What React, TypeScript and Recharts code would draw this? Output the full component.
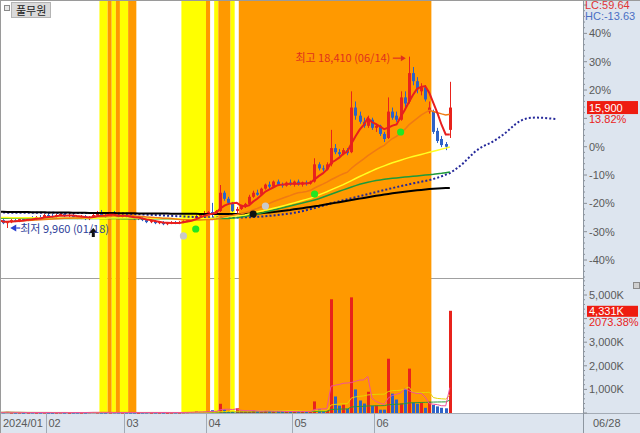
import React from 'react';
import { ComposedChart, Bar, Line, XAxis, YAxis, ReferenceArea } from 'recharts';

// ---------------- data ----------------
const stockName = '풀무원';
const monthTickIdx = [0, 12, 31, 51, 72, 92];
const monthTickLabels = ['2024/01', '02', '03', '04', '05', '06'];
const lastDateLabel = '06/28';

const opens = [
  10450, 10350, 10200, 10250, 10350, 10300, 10400, 10350, 10450, 10400, 10500, 10450,
  10600, 10550, 10500, 10600, 10650, 10550, 10600, 10500, 10450, 10550, 10400, 10500, 10600, 10700, 10600, 10500, 10650, 10600, 10500,
  10600, 10500, 10450, 10400, 10450, 10350, 10250, 10300, 10200, 10250, 10150, 10200, 10250, 10200, 10250, 10300, 10400, 10450, 10550, 10650,
  10700, 10750, 10650, 10800, 11700, 11400, 11200, 10800, 10900, 11050, 11150, 11500, 11700, 11600, 11900, 12100, 12000, 12250, 12100, 12050, 12200,
  12100, 12250, 12100, 12200, 12150, 12250, 13100, 12900, 12850, 13100, 13900, 13700, 13600, 13800, 13700, 15900, 15500, 15200, 15000, 15300,
  14900, 15000, 14600, 14400, 15700, 15500, 15300, 16400, 16200, 17600, 17200, 16700, 16900, 15700, 15700, 14750, 14350, 14100, 14800,
];
const highs = [
  10500, 10400, 10300, 10400, 10450, 10450, 10500, 10500, 10550, 10550, 10600, 10650,
  10700, 10650, 10650, 10750, 10700, 10650, 10650, 10550, 10600, 10600, 10550, 10650, 10800, 10850, 10700, 10750, 10800, 10700, 10650,
  10700, 10600, 10550, 10500, 10500, 10400, 10350, 10350, 10300, 10300, 10250, 10300, 10300, 10300, 10350, 10450, 10500, 10600, 10700, 10800,
  10800, 11200, 10850, 12080, 11800, 11500, 11250, 11000, 11100, 11200, 11600, 11800, 11850, 11950, 12150, 12250, 12300, 12350, 12200, 12250, 12350,
  12300, 12350, 12250, 12300, 12300, 13400, 13200, 13050, 13200, 14800, 14100, 13850, 13900, 13900, 16700, 16200, 15700, 15400, 15500, 15400,
  15100, 15050, 14700, 16400, 15900, 15700, 16700, 16700, 18410, 17900, 17400, 17100, 17000, 16200, 15800, 14900, 14500, 14200, 17170,
];
const lows = [
  10300, 10150, 9960, 10200, 10250, 10250, 10300, 10300, 10350, 10350, 10400, 10400,
  10500, 10450, 10450, 10550, 10500, 10500, 10450, 10400, 10400, 10350, 10350, 10450, 10550, 10550, 10450, 10450, 10550, 10400, 10450,
  10450, 10400, 10350, 10350, 10300, 10200, 10200, 10150, 10150, 10100, 10100, 10150, 10150, 10150, 10200, 10250, 10350, 10400, 10500, 10600,
  10600, 10350, 10600, 10750, 11300, 11100, 10750, 10600, 10850, 10950, 11100, 11450, 11550, 11550, 11850, 11900, 11950, 12050, 11950, 12000, 12050,
  12000, 12050, 12000, 12050, 12100, 12200, 12800, 12750, 12800, 13000, 13600, 13500, 13550, 13550, 13650, 15300, 15100, 14900, 14900, 14800,
  14700, 14500, 14200, 14350, 15300, 15200, 15250, 15900, 16100, 17000, 16600, 16500, 16200, 15600, 14600, 14150, 13950, 13800, 14400,
];
const closes = [
  10350, 10200, 10250, 10350, 10300, 10400, 10350, 10450, 10400, 10500, 10450, 10600,
  10550, 10500, 10600, 10650, 10550, 10600, 10500, 10450, 10550, 10400, 10500, 10600, 10700, 10600, 10500, 10650, 10600, 10500, 10600,
  10500, 10450, 10400, 10450, 10350, 10250, 10300, 10200, 10250, 10150, 10200, 10250, 10200, 10250, 10300, 10400, 10450, 10550, 10650, 10700,
  10750, 10650, 10800, 11700, 11400, 11200, 10800, 10900, 11050, 11150, 11500, 11700, 11600, 11900, 12100, 12000, 12250, 12100, 12050, 12200, 12100,
  12250, 12100, 12200, 12150, 12250, 13100, 12900, 12850, 13100, 13900, 13700, 13600, 13800, 13650, 15900, 15500, 15200, 15000, 15300, 14900,
  15000, 14600, 14350, 15700, 15400, 15300, 16400, 16100, 17600, 17200, 16800, 16900, 16300, 15900, 14700, 14250, 14050, 13970, 15900,
];
// volume in thousands of shares
const volumes = [
  25, 30, 45, 20, 18, 22, 15, 20, 25, 18, 20, 22,
  18, 15, 20, 25, 18, 15, 20, 22, 18, 20, 35, 40, 25, 20, 18, 22, 30, 25, 20,
  22, 18, 20, 15, 20, 25, 18, 22, 20, 18, 15, 20, 25, 22, 30, 35, 40, 60, 45, 50,
  70, 120, 60, 390, 150, 80, 60, 200, 90, 70, 60, 110, 80, 60, 100, 70, 60, 80, 50, 60, 70,
  60, 50, 70, 60, 80, 490, 150, 90, 120,
  4820, 700, 310, 350, 180, 4900, 1000, 530, 400, 900, 300, 320, 140, 140, 2300, 820, 570, 410, 1030, 1880,
  440, 390, 440, 220, 480, 340, 280, 220, 199, 4331,
];
// long moving averages
const ma60Line = [
  10480, 10478, 10475, 10472, 10470, 10468, 10466, 10464, 10462, 10460,
  10458, 10456, 10455, 10454, 10453, 10452, 10451, 10450, 10450, 10449,
  10448, 10447, 10446, 10445, 10445, 10446, 10447, 10448, 10449, 10450,
  10450, 10450, 10449, 10448, 10446, 10444, 10442, 10440, 10437, 10434,
  10431, 10428, 10425, 10422, 10420, 10418, 10417, 10417, 10418, 10420,
  10423,
  10430, 10440, 10455, 10475, 10495, 10515, 10535, 10555, 10578, 10600,
  10650, 10700, 10750, 10800, 10845, 10890, 10935, 10980, 11035, 11090,
  11145, 11200, 11258, 11315, 11372, 11430, 11510, 11590, 11670, 11750,
  11838, 11925, 12013, 12100, 12200, 12300, 12400, 12500, 12593, 12685,
  12778, 12870, 12948, 13025, 13103, 13180, 13243, 13305, 13368, 13430,
  13483, 13535, 13588, 13640, 13693, 13745, 13798, 13850, 13900, 13950,
];
const ma120Line = [
  10440, 10440, 10438, 10438, 10436, 10436, 10435, 10435, 10434, 10434,
  10433, 10433, 10432, 10432, 10431, 10431, 10430, 10430, 10429, 10429,
  10428, 10428, 10427, 10427, 10426, 10426, 10425, 10425, 10424, 10424,
  10423, 10423, 10422, 10422, 10421, 10421, 10420, 10420, 10420, 10419,
  10419, 10419, 10418, 10418, 10418, 10418, 10418, 10419, 10420, 10421,
  10422, 10423, 10424, 10425, 10427, 10428,
  10430, 10450, 10470, 10500, 10530, 10570, 10610, 10655, 10700, 10750,
  10800, 10850, 10900, 10950, 11000, 11050, 11100, 11145, 11190, 11240,
  11290, 11345, 11400, 11475, 11550, 11625, 11700, 11770, 11840, 11910,
  11980, 12050, 12120, 12170, 12220, 12260, 12300, 12330, 12360, 12385,
  12410, 12430, 12450, 12470, 12490, 12510, 12530, 12550, 12570, 12590,
  12610, 12635, 12660, 12690, 12720,
];
const ma240Line = [
  10760, 10760, 10755, 10755, 10750, 10750, 10745, 10745, 10740, 10740,
  10735, 10735, 10730, 10730, 10725, 10725, 10720, 10720, 10715, 10715,
  10710, 10710, 10705, 10705, 10700, 10700, 10700, 10695, 10695, 10690,
  10690,
  10690, 10685, 10685, 10680, 10680, 10680, 10675, 10675, 10670, 10670,
  10670, 10665, 10665, 10665, 10660, 10660, 10660, 10660, 10655, 10655,
  10655, 10655, 10655, 10650,
  10650, 10650, 10650, 10652, 10655, 10658, 10662, 10667,
  10675, 10690, 10710, 10730, 10750, 10775, 10800, 10825, 10850, 10880,
  10910, 10940, 10970, 11000, 11030, 11060, 11095, 11130, 11165, 11200,
  11235, 11270, 11305, 11340, 11375, 11410, 11445, 11480, 11515, 11550,
  11580, 11610, 11640, 11670, 11700, 11725, 11750, 11775, 11800, 11820,
  11840, 11860, 11880, 11895, 11910, 11920, 11930, 11935,
];
// leading span, extends 26 sessions past the last candle
const leadSpan = [
  10720, 10720, 10718, 10718, 10716, 10716, 10714, 10714, 10712, 10712,
  10710, 10710, 10708, 10708, 10706, 10706, 10704, 10704, 10702, 10702,
  10700, 10700, 10698, 10696, 10694, 10692, 10690, 10686, 10682, 10678,
  10674, 10670, 10660, 10650, 10640, 10630,
  10620, 10610, 10600, 10590, 10580, 10570, 10560, 10550, 10540, 10530,
  10520, 10510, 10500, 10495, 10490, 10485, 10480, 10478, 10476, 10475,
  10475, 10476, 10478, 10480, 10485, 10490, 10500,
  10510, 10525, 10540, 10560, 10580, 10600, 10625, 10650, 10680, 10710,
  10745, 10790, 10840, 10890, 10945, 11000, 11060, 11120, 11180, 11230,
  11280, 11330, 11380, 11430, 11480, 11530, 11580, 11630, 11680, 11730,
  11780, 11830, 11880, 11930, 11980, 12025, 12070, 12115, 12160, 12200,
  12240, 12280, 12320, 12380, 12440, 12510, 12590, 12670,
  12800, 12950, 13100, 13300, 13500, 13700, 13850, 13980, 14080, 14160,
  14280, 14420, 14560, 14720, 14900, 15080, 15220, 15320, 15380, 15400,
  15410, 15400, 15390, 15370, 15350, 15330,
];

// background condition bands (session index ranges)
const bandStart = [25, 27, 28, 29, 30, 32, 45, 51, 53, 54, 57, 59];
const bandEnd = [26, 27, 28, 29, 31, 33, 50, 51, 53, 56, 57, 105];
const bandKind = ['Y', 'O', 'Y', 'O', 'Y', 'O', 'Y', 'O', 'Y', 'O', 'Y', 'O'];

// signal markers
const markerIdx = [23, 45, 48, 62, 65, 77, 98];
const markerPrice = [9714, 9568, 9911, 10650, 11045, 11636, 14694];
const markerKind = ['arrow', 'gray', 'green', 'black', 'gray', 'green', 'green'];

const highIdx = 100;
const lowIdx = 2;
const highLabel = '최고 18,410 (06/14)';
const lowLabel = '최저 9,960 (01/18)';
const lcLabel = 'LC:59.64';
const hcLabel = 'HC:-13.63';
const lastPriceLabel = '15,900';
const lastPctLabel = '13.82%';
const lastVolLabel = '4,331K';
const lastVolPctLabel = '2073.38%';

// ---------------- layout ----------------
const W = 640;
const H = 433;
const PLOT_RIGHT = 583;
const CHART_LEFT = -3;
const CHART_W = 643;
const AXIS_W = 57;
const AX = CHART_W - AXIS_W;
const SLOTS = 143;
const BW = AX / SLOTS;
const PRICE_H = 279;
const VOL_TOP = 279;
const VOL_PLOT_H = 134;
const XAXIS_H = 20;
const PCT_TOP = 51.78;
const PCT_BOTTOM = -46.7;
const VOL_MAX = 5678;

const UP = '#e8231c';
const DOWN = '#2d62c8';
const BAND_COLORS: Record<string, string> = { Y: '#ffff00', O: '#ff9900' };
const AXIS_TEXT = '#5a5a5a';
const NUM_FONT = '"Liberation Sans", Arial, sans-serif';
const KR_FONT = '"Noto Sans CJK KR", "Noto Sans", sans-serif';

const prevClose = closes[closes.length - 2];
const P_HI = prevClose * (1 + PCT_TOP / 100);
const P_LO = prevClose * (1 + PCT_BOTTOM / 100);

function sma(arr: number[], n: number, i: number) {
  const s = Math.max(0, i - n + 1);
  let sum = 0;
  for (let k = s; k <= i; k++) sum += arr[k];
  return sum / (i - s + 1);
}

const rows = Array.from({ length: SLOTS }, (_, i) => {
  const has = i < closes.length;
  const m = markerIdx.indexOf(i);
  return {
    i,
    o: has ? opens[i] : null,
    h: has ? highs[i] : null,
    l: has ? lows[i] : null,
    c: has ? closes[i] : null,
    range: has ? [lows[i], highs[i]] : null,
    ma5: has ? sma(closes, 5, i) : null,
    ma20: has ? sma(closes, 20, i) : null,
    ma60: ma60Line[i] ?? null,
    ma120: ma120Line[i] ?? null,
    ma240: ma240Line[i] ?? null,
    span: leadSpan[i] ?? null,
    vol: has ? volumes[i] : null,
    vma5: has ? sma(volumes, 5, i) : null,
    vma20: has ? sma(volumes, 20, i) : null,
    vma60: has ? sma(volumes, 60, i) : null,
    mk: m >= 0 ? markerPrice[m] : null,
    mkKind: m >= 0 ? markerKind[m] : null,
    hiMark: i === highIdx ? highs[i] : null,
    loMark: i === lowIdx ? lows[i] : null,
    lastMark: i === closes.length - 1 ? closes[i] : null,
    lastVol: i === closes.length - 1 ? volumes[i] : null,
  };
});

const priceTicks: number[] = [];
for (let p = -46; p <= 50; p += 2) priceTicks.push(prevClose * (1 + p / 100));
const volTicks: number[] = [];
for (let v = 0; v <= 5600; v += 200) volTicks.push(v);

// ---------------- shapes ----------------
function CandleShape(props: any) {
  const { x, y, width, height, payload } = props;
  if (!payload || payload.o == null || x == null) return <g />;
  const { o, h, l, c } = payload;
  const color = c >= o ? UP : DOWN;
  const k = h > l ? height / (h - l) : 0;
  const py = (v: number) => y + (h - v) * k;
  const cx = Math.round(x + width / 2) + 0.5;
  const top = py(Math.max(o, c));
  const bot = py(Math.min(o, c));
  return (
    <g>
      <line x1={cx} x2={cx} y1={y} y2={y + height} stroke={color} strokeWidth={1} />
      <rect x={cx - 1.5} y={top} width={3} height={Math.max(1, bot - top)} fill={color} />
    </g>
  );
}

function VolShape(props: any) {
  const { x, y, width, height, payload } = props;
  if (!payload || payload.vol == null || x == null) return <g />;
  const color = payload.c >= payload.o ? UP : DOWN;
  const cx = Math.round(x + width / 2) + 0.5;
  return <rect x={cx - 1.5} y={y} width={3} height={Math.max(1, height)} fill={color} />;
}

function MarkerDot(props: any) {
  const { cx, cy, payload, index } = props;
  const key = `mk-${index}`;
  if (cy == null || payload == null || payload.mk == null) return <g key={key} />;
  const kind = payload.mkKind;
  if (kind === 'arrow') {
    return (
      <g key={key}>
        <polygon points={`${cx},${cy - 5} ${cx - 4.5},${cy} ${cx + 4.5},${cy}`} fill="#111" />
        <rect x={cx - 1.5} y={cy} width={3} height={4} fill="#111" />
      </g>
    );
  }
  const fill = kind === 'green' ? '#22e622' : kind === 'gray' ? '#c9c9c9' : '#111';
  return <circle key={key} cx={cx} cy={cy} r={3.6} fill={fill} />;
}

function HighDot(props: any) {
  const { cx, cy, value, index } = props;
  const key = `hi-${index}`;
  if (cy == null || value == null) return <g key={key} />;
  const c = '#e0301e';
  const ay = cy + 1.5;
  return (
    <g key={key}>
      <text x={cx - 18.5} y={cy + 5.5} textAnchor="end" fontSize={11} fill={c} fontFamily={KR_FONT}>
        {highLabel}
      </text>
      <line x1={cx - 16} x2={cx - 8} y1={ay} y2={ay} stroke={c} strokeWidth={1.2} />
      <polygon points={`${cx - 3},${ay} ${cx - 8},${ay - 3} ${cx - 8},${ay + 3}`} fill={c} />
    </g>
  );
}

function LowDot(props: any) {
  const { cx, cy, value, index } = props;
  const key = `lo-${index}`;
  if (cy == null || value == null) return <g key={key} />;
  const c = '#2f3f9a';
  return (
    <g key={key}>
      <polygon points={`${cx + 3},${cy} ${cx + 9},${cy - 3.5} ${cx + 9},${cy + 3.5}`} fill="#2a3fd0" />
      <line x1={cx + 9} x2={cx + 13} y1={cy} y2={cy} stroke="#2a3fd0" strokeWidth={1.2} />
      <text x={cx + 13} y={cy + 4.5} fontSize={11} fill={c} fontFamily={KR_FONT}>
        {lowLabel}
      </text>
    </g>
  );
}

function LastPriceDot(props: any) {
  const { cy, value, index } = props;
  const key = `lp-${index}`;
  if (cy == null || value == null) return <g key={key} />;
  return (
    <g key={key}>
      <rect x={AX + 4} y={cy - 6.5} width={51} height={13} fill="#ee1c10" />
      <text x={AX + 6} y={cy + 4} fontSize={11} fill="#ffffff" fontFamily={NUM_FONT}>
        {lastPriceLabel}
      </text>
      <text x={AX + 6} y={cy + 15} fontSize={11} fill="#e8231c" fontFamily={NUM_FONT}>
        {lastPctLabel}
      </text>
    </g>
  );
}

function LastVolDot(props: any) {
  const { cy, value, index } = props;
  const key = `lv-${index}`;
  if (cy == null || value == null) return <g key={key} />;
  return (
    <g key={key}>
      <rect x={AX + 4} y={cy - 5} width={51} height={11} fill="#ee1c10" />
      <text x={AX + 6} y={cy + 4.5} fontSize={11} fill="#ffffff" fontFamily={NUM_FONT}>
        {lastVolLabel}
      </text>
      <text x={AX + 6} y={cy + 15} fontSize={11} fill="#e8231c" fontFamily={NUM_FONT}>
        {lastVolPctLabel}
      </text>
    </g>
  );
}

function PriceTick(props: any) {
  const { y, payload } = props;
  const pct = Math.round((payload.value / prevClose - 1) * 100);
  const major = pct % 10 === 0;
  const labelled = major && pct !== 10 && Math.abs(pct) <= 40;
  return (
    <g>
      <line x1={AX} x2={AX + (major ? 4 : 2)} y1={y} y2={y} stroke="#8a8f96" />
      {labelled ? (
        <text x={AX + 6} y={y + 4} fontSize={11} fill={AXIS_TEXT} fontFamily={NUM_FONT}>
          {`${pct}%`}
        </text>
      ) : null}
    </g>
  );
}

function VolTick(props: any) {
  const { y, payload } = props;
  const v = payload.value;
  const major = v % 1000 === 0;
  return (
    <g>
      <line x1={AX} x2={AX + (major ? 4 : 2)} y1={y} y2={y} stroke="#8a8f96" />
      {major && v > 0 && v !== 4000 ? (
        <text x={AX + 6} y={y + 4} fontSize={11} fill={AXIS_TEXT} fontFamily={NUM_FONT}>
          {`${v.toLocaleString('en-US')}K`}
        </text>
      ) : null}
    </g>
  );
}

function MonthTick(props: any) {
  const { x, payload } = props;
  const k = monthTickIdx.indexOf(payload.value);
  if (k < 0) return <g />;
  const left = Math.round(x - BW / 2) + 0.5;
  return (
    <g>
      {k > 0 ? <line x1={left} x2={left} y1={VOL_PLOT_H} y2={VOL_PLOT_H + XAXIS_H} stroke="#a3abb5" /> : null}
      <text x={k === 0 ? 6 : left + 2} y={VOL_PLOT_H + 14} fontSize={11} fill={AXIS_TEXT} fontFamily={NUM_FONT}>
        {monthTickLabels[k]}
      </text>
    </g>
  );
}

function bands() {
  return bandStart.map((s, k) => (
    <ReferenceArea
      key={`band-${k}`}
      x1={s}
      x2={bandEnd[k]}
      fill={BAND_COLORS[bandKind[k]]}
      fillOpacity={1}
      stroke="none"
    />
  ));
}

export default function App() {
  return (
    <div style={{ position: 'relative', width: W, height: H, overflow: 'hidden', background: '#ffffff', fontFamily: NUM_FONT }}>
      <style>{'body{margin:0}'}</style>
      {/* right axis panel & x strip background */}
      <div style={{ position: 'absolute', left: PLOT_RIGHT, top: 0, width: W - PLOT_RIGHT, height: H, background: '#dde5ef' }} />
      <div style={{ position: 'absolute', left: 0, top: 413, width: W, height: H - 413, background: '#dde5ef', borderTop: '1px solid #a3abb5', boxSizing: 'border-box' }} />
      {/* panel separator */}
      <div style={{ position: 'absolute', left: 0, top: 278, width: PLOT_RIGHT, height: 1, background: '#a0a0a0' }} />

      {/* price panel */}
      <div style={{ position: 'absolute', left: CHART_LEFT, top: 0 }}>
        <ComposedChart width={CHART_W} height={PRICE_H} data={rows} margin={{ top: 0, right: 0, bottom: 0, left: 0 }}>
          {bands()}
          <XAxis dataKey="i" type="category" hide />
          <YAxis
            orientation="right"
            width={AXIS_W}
            type="number"
            domain={[P_LO, P_HI]}
            ticks={priceTicks}
            interval={0}
            axisLine={false}
            tickLine={false}
            tick={<PriceTick />}
          />
          <Line dataKey="span" stroke="#24289a" strokeWidth={2} strokeDasharray="2 2.1" dot={false} activeDot={false} isAnimationActive={false} />
          <Bar dataKey="range" shape={(p: any) => <CandleShape {...p} />} isAnimationActive={false} />
          <Line dataKey="ma240" stroke="#000000" strokeWidth={2} dot={false} activeDot={false} isAnimationActive={false} />
          <Line dataKey="ma120" stroke="#1e9a3a" strokeWidth={1.5} dot={false} activeDot={false} isAnimationActive={false} />
          <Line dataKey="ma60" stroke="#ffff22" strokeWidth={1.5} dot={false} activeDot={false} isAnimationActive={false} />
          <Line dataKey="ma20" stroke="#f07a12" strokeWidth={1.5} dot={false} activeDot={false} isAnimationActive={false} />
          <Line dataKey="ma5" stroke="#e81e1e" strokeWidth={2} dot={false} activeDot={false} isAnimationActive={false} />
          <Line dataKey="mk" stroke="none" dot={(p: any) => <MarkerDot {...p} />} activeDot={false} isAnimationActive={false} />
          <Line dataKey="hiMark" stroke="none" dot={(p: any) => <HighDot {...p} />} activeDot={false} isAnimationActive={false} />
          <Line dataKey="loMark" stroke="none" dot={(p: any) => <LowDot {...p} />} activeDot={false} isAnimationActive={false} />
          <Line dataKey="lastMark" stroke="none" dot={(p: any) => <LastPriceDot {...p} />} activeDot={false} isAnimationActive={false} />
        </ComposedChart>
      </div>

      {/* volume panel */}
      <div style={{ position: 'absolute', left: CHART_LEFT, top: VOL_TOP }}>
        <ComposedChart width={CHART_W} height={VOL_PLOT_H + XAXIS_H} data={rows} margin={{ top: 0, right: 0, bottom: 0, left: 0 }}>
          {bands()}
          <XAxis
            dataKey="i"
            type="category"
            height={XAXIS_H}
            ticks={monthTickIdx}
            interval={0}
            axisLine={false}
            tickLine={false}
            tick={<MonthTick />}
          />
          <YAxis
            orientation="right"
            width={AXIS_W}
            type="number"
            domain={[0, VOL_MAX]}
            ticks={volTicks}
            interval={0}
            axisLine={false}
            tickLine={false}
            tick={<VolTick />}
          />
          <Bar dataKey="vol" shape={(p: any) => <VolShape {...p} />} isAnimationActive={false} />
          <Line dataKey="vma60" stroke="#2a9a3a" strokeWidth={1} dot={false} activeDot={false} isAnimationActive={false} />
          <Line dataKey="vma20" stroke="#e6d400" strokeWidth={1} dot={false} activeDot={false} isAnimationActive={false} />
          <Line dataKey="vma5" stroke="#f0509a" strokeWidth={1} dot={false} activeDot={false} isAnimationActive={false} />
          <Line dataKey="lastVol" stroke="none" dot={(p: any) => <LastVolDot {...p} />} activeDot={false} isAnimationActive={false} />
        </ComposedChart>
      </div>

      {/* axis separator & frame */}
      <div style={{ position: 'absolute', left: PLOT_RIGHT, top: 0, width: 1, height: H, background: '#8d96a0' }} />
      <div style={{ position: 'absolute', left: 0, top: 0, width: W, height: 1, background: '#9a9a9a' }} />
      <div style={{ position: 'absolute', left: 0, top: 0, width: 1, height: H, background: '#9a9a9a' }} />

      {/* legend */}
      <div style={{ position: 'absolute', left: 4, top: 5, width: 4, height: 4, border: '1px solid #8a8a8a', background: '#e8e8e8' }} />
      <div
        style={{
          position: 'absolute',
          left: 11,
          top: 2,
          height: 14,
          padding: '0 4px',
          background: '#dadada',
          border: '1px solid #b4b4b4',
          fontFamily: KR_FONT,
          fontSize: 11,
          lineHeight: '14px',
          color: '#222',
        }}
      >
        {stockName}
      </div>

      {/* right panel texts */}
      <div style={{ position: 'absolute', left: 585, top: 0, fontSize: 11, lineHeight: '11px', color: '#e03434' }}>{lcLabel}</div>
      <div style={{ position: 'absolute', left: 585, top: 11, fontSize: 11, lineHeight: '11px', color: '#4a6ec4' }}>{hcLabel}</div>
      <div style={{ position: 'absolute', left: 633, top: 282, width: 5, height: 5, border: '1px solid #8a8a8a', background: '#cfcfcf' }} />
      <div style={{ position: 'absolute', left: 593, top: 416, fontSize: 11, lineHeight: '14px', color: AXIS_TEXT }}>{lastDateLabel}</div>
    </div>
  );
}
